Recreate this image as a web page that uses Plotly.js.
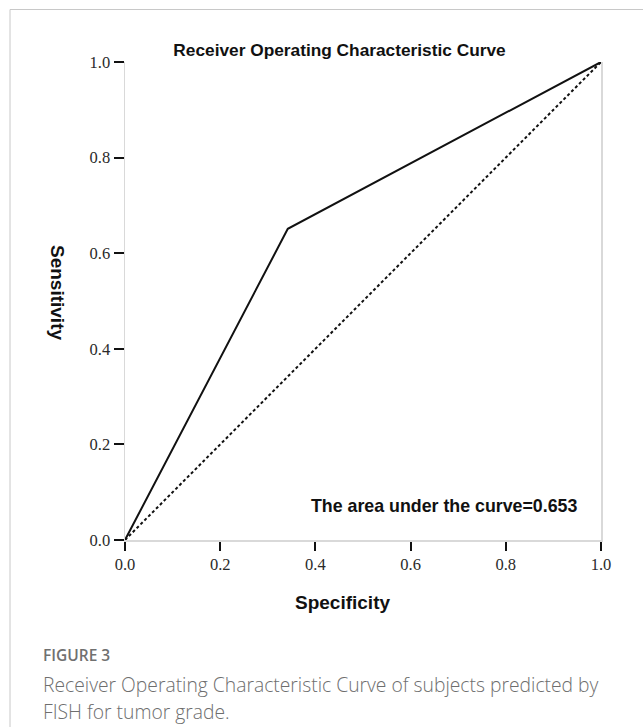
<!DOCTYPE html>
<html>
<head>
<meta charset="utf-8">
<script src="https://cdn.plot.ly/plotly-3.0.1.min.js"></script>
<style>html,body{margin:0;padding:0;background:#fff;}#chart{width:643px;height:727px;}</style>
</head>
<body>
<div id="chart"></div>
<script>
// ROC curve points (axis labelled "Specificity" as in the source)
const rocX = [0, 0.342, 1];
const rocY = [0, 0.651, 1];
// Reference diagonal
const refX = [0, 1];
const refY = [0, 1];
const tickVals = [0, 0.2, 0.4, 0.6, 0.8, 1.0];
const tickText = ['0.0', '0.2', '0.4', '0.6', '0.8', '1.0'];
const aucText = 'The area under the curve=0.653';

const W = 643, H = 727;
const M = {l: 125, r: 42, t: 62, b: 187};
const PW = W - M.l - M.r, PH = H - M.t - M.b;
const px = v => (v - M.l) / PW;
const py = v => (H - M.b - v) / PH;

const traces = [
  {x: refX, y: refY, mode: 'lines', line: {color: '#111', width: 2, dash: '3px,2.5px'}, hoverinfo: 'skip', cliponaxis: false},
  {x: rocX, y: rocY, mode: 'lines', line: {color: '#111', width: 2}, hoverinfo: 'skip', cliponaxis: false}
];

const tickFont = {family: '"Liberation Serif", "Times New Roman", serif', size: 16.5, color: '#2a2a2a'};
const boldSans = '"Liberation Sans", Arial, sans-serif';

const layout = {
  width: W, height: H,
  margin: M,
  paper_bgcolor: '#fff', plot_bgcolor: '#fff',
  showlegend: false,
  title: {
    text: 'Receiver Operating Characteristic Curve',
    font: {family: boldSans, size: 17.3, color: '#111', weight: 'bold'},
    xref: 'container', yref: 'container',
    x: 339.5 / W, xanchor: 'center',
    y: 1 - 50 / H, yanchor: 'middle'
  },
  xaxis: {
    range: [0, 1], fixedrange: true,
    showgrid: false, zeroline: false,
    showline: true, linecolor: '#d9d9d9', linewidth: 1.5,
    ticks: 'outside', ticklen: 9, tickwidth: 2, tickcolor: '#111',
    tickvals: tickVals, ticktext: tickText, tickfont: tickFont
  },
  yaxis: {
    range: [0, 1], fixedrange: true,
    showgrid: false, zeroline: false,
    showline: true, linecolor: '#d9d9d9', linewidth: 1.5, mirror: true,
    ticks: 'outside', ticklen: 10, tickwidth: 2, tickcolor: '#111',
    tickvals: tickVals, ticktext: tickText, tickfont: tickFont
  },
  shapes: [
    {type: 'line', xref: 'paper', yref: 'paper', x0: px(10), x1: px(W + 5), y0: py(9.5), y1: py(9.5), line: {color: '#c8c8c8', width: 1}},
    {type: 'line', xref: 'paper', yref: 'paper', x0: px(10), x1: px(10), y0: py(9.5), y1: py(H + 5), line: {color: '#c8c8c8', width: 1}}
  ],
  annotations: [
    {text: aucText, xref: 'paper', yref: 'paper', x: px(309), y: py(506), xanchor: 'left', yanchor: 'middle', showarrow: false,
     font: {family: boldSans, size: 17.8, color: '#111', weight: 'bold'}},
    {text: 'Specificity', xref: 'paper', yref: 'paper', x: px(342), y: py(602), xanchor: 'center', yanchor: 'middle', showarrow: false,
     font: {family: boldSans, size: 19, color: '#111', weight: 'bold'}},
    {text: 'Sensitivity', xref: 'paper', yref: 'paper', x: px(58), y: py(292), xanchor: 'center', yanchor: 'middle', showarrow: false, textangle: 90,
     font: {family: boldSans, size: 19, color: '#111', weight: 'bold'}},
    {text: 'FIGURE 3', xref: 'paper', yref: 'paper', x: px(41), y: py(655), xanchor: 'left', yanchor: 'middle', showarrow: false,
     font: {family: '"Open Sans", sans-serif', size: 15.5, color: '#707070', weight: 600}},
    {text: 'Receiver Operating Characteristic Curve of subjects predicted by', xref: 'paper', yref: 'paper', x: px(41), y: py(685), xanchor: 'left', yanchor: 'middle', showarrow: false,
     font: {family: '"Open Sans", sans-serif', size: 19.3, color: '#6e6e6e', weight: 300}},
    {text: 'FISH for tumor grade.', xref: 'paper', yref: 'paper', x: px(41), y: py(711), xanchor: 'left', yanchor: 'middle', showarrow: false,
     font: {family: '"Open Sans", sans-serif', size: 19.3, color: '#6e6e6e', weight: 300}}
  ]
};

Plotly.newPlot('chart', traces, layout, {staticPlot: true, displayModeBar: false});
</script>
</body>
</html>
